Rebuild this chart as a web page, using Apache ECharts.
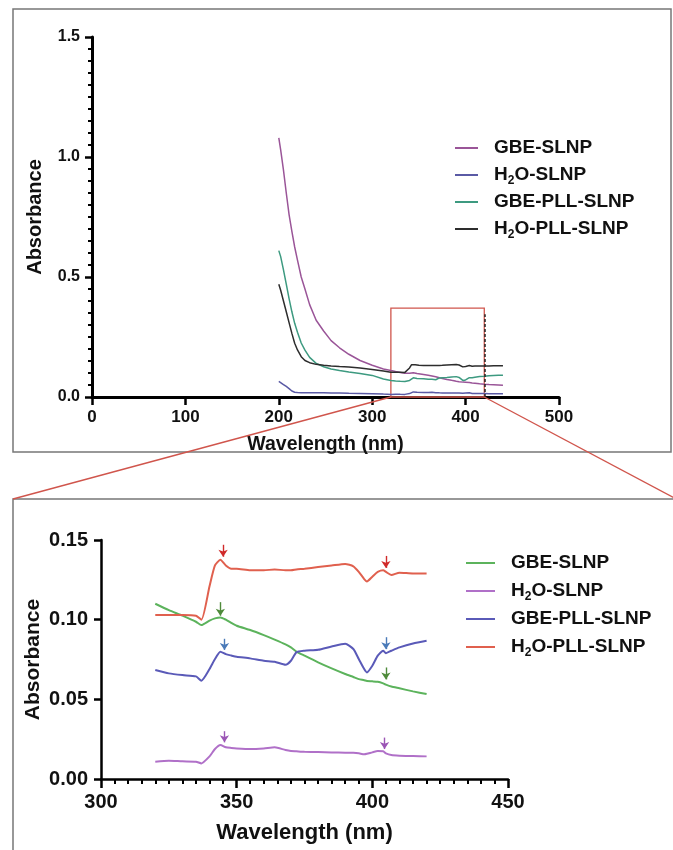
<!DOCTYPE html>
<html>
<head>
<meta charset="utf-8">
<script src="https://cdn.jsdelivr.net/npm/echarts@6/dist/echarts.min.js"></script>
<style>html,body{margin:0;padding:0;background:#fff;}#c{width:673px;height:850px;}</style>
</head>
<body>
<div id="c"></div>
<script>
// ---------- DATA ----------
var seriesNames = ['GBE-SLNP', 'H2O-SLNP', 'GBE-PLL-SLNP', 'H2O-PLL-SLNP'];

// Zoomed region (bottom panel) wavelengths, nm
var zoomWl = [320,325,330,335,337,340,342,344,346,348,350,355,360,364,368,370,372,375,380,385,390,393,395,397,398,400,402,404,405,407,410,415,420];
var zoomGbeSlnp = [0.110,0.106,0.1025,0.0987,0.0966,0.0994,0.1008,0.1014,0.100,0.098,0.0962,0.0935,0.0903,0.0875,0.0845,0.0826,0.080,0.0774,0.0732,0.0694,0.0659,0.064,0.0627,0.062,0.0615,0.0613,0.061,0.060,0.0592,0.058,0.0569,0.055,0.0533];
var zoomH2oSlnp = [0.0109,0.0115,0.0111,0.0109,0.0098,0.0142,0.0188,0.0213,0.0199,0.0195,0.0192,0.0188,0.0192,0.0199,0.0182,0.0176,0.0174,0.0171,0.0169,0.0167,0.0165,0.0164,0.0161,0.0155,0.0158,0.0167,0.0175,0.0174,0.0161,0.015,0.0146,0.0144,0.0142];
var zoomGbePll = [0.0684,0.0663,0.0652,0.0644,0.0617,0.069,0.0753,0.0799,0.0784,0.0775,0.0767,0.0757,0.0742,0.0736,0.0717,0.0742,0.0795,0.0805,0.0811,0.0832,0.0849,0.0816,0.0753,0.069,0.0669,0.0711,0.0774,0.0805,0.079,0.0805,0.0826,0.0851,0.0868];
var zoomH2oPll = [0.103,0.103,0.103,0.1025,0.100,0.121,0.134,0.1376,0.134,0.132,0.132,0.131,0.131,0.1315,0.131,0.131,0.1315,0.132,0.133,0.134,0.135,0.1335,0.130,0.1255,0.124,0.127,0.130,0.131,0.130,0.128,0.1295,0.129,0.129];

// Full spectrum (top panel): head 200-312 nm, then zoom region, then tail 425-440 nm
var headWl = [200,202,205,208,211,214,217,220,224,228,233,240,248,256,265,275,287,300,312];
var headGbeSlnp = [1.08,1.03,0.945,0.85,0.76,0.69,0.625,0.57,0.50,0.45,0.385,0.32,0.275,0.235,0.205,0.178,0.152,0.132,0.117];
var headH2oSlnp = [0.065,0.06,0.052,0.044,0.035,0.025,0.02,0.019,0.018,0.018,0.018,0.018,0.018,0.017,0.017,0.016,0.015,0.014,0.012];
var headGbePll = [0.61,0.585,0.53,0.47,0.41,0.355,0.307,0.27,0.225,0.195,0.165,0.14,0.126,0.117,0.11,0.104,0.098,0.09,0.075];
var headH2oPll = [0.47,0.445,0.40,0.355,0.31,0.265,0.224,0.196,0.168,0.152,0.143,0.136,0.132,0.129,0.127,0.125,0.121,0.115,0.108];
var tailWl = [425,430,435,440];
var tailGbeSlnp = [0.052,0.051,0.050,0.049];
var tailH2oSlnp = [0.014,0.014,0.014,0.014];
var tailGbePll = [0.089,0.090,0.091,0.091];
var tailH2oPll = [0.129,0.130,0.130,0.130];

// Arrow annotations in the zoom panel: [x, yTop, yTip]
var arrowsGbeSlnp = [[344,0.111,0.1025],[405,0.070,0.0625]];
var arrowsH2oSlnp = [[345.5,0.030,0.023],[404.5,0.026,0.0188]];
var arrowsGbePll = [[345.5,0.088,0.081],[405,0.089,0.0815]];
var arrowsH2oPll = [[345,0.147,0.1395],[405,0.140,0.1325]];

// Zoom box on the overview
var boxX = [320, 420];
var boxYMax = 0.37;
var dashYMax = 0.345;

// ---------- HELPERS ----------
function zip(xs, ys) { return xs.map(function (x, i) { return [x, ys[i]]; }); }
function full(h, z, t) { return zip(headWl, h).concat(zip(zoomWl, z)).concat(zip(tailWl, t)); }
function arrowLines(arr) {
  return arr.map(function (a) { return [{ coord: [a[0], a[1]] }, { coord: [a[0], a[2]] }]; });
}

var FONT = '"Liberation Sans", Arial, sans-serif';
var topColors = ['#9a5598', '#5a5aa5', '#3d9a80', '#2d2d2d'];
var botColors = ['#5cb35c', '#b070c8', '#5a5ab8', '#e0604e'];
var arrowColors = ['#4e8a3a', '#9b55b5', '#4a7ab8', '#d02a2a'];

function legendFmt(name) { return name.replace('H2O', 'H{s|2}O'); }
var legendRich = {
  s: { fontSize: 12, fontWeight: 'bold', fontFamily: FONT, color: '#111', lineHeight: 12, verticalAlign: 'bottom' }
};

function axisBase(w) {
  return {
    axisLine: { show: true, onZero: false, lineStyle: { color: '#000', width: w } },
    axisTick: { show: true, lineStyle: { color: '#000', width: w - 0.5 } },
    splitLine: { show: false },
    nameMoveOverlap: false
  };
}

var chart = echarts.init(document.getElementById('c'), null, { renderer: 'canvas' });

var topData = [
  full(headGbeSlnp, zoomGbeSlnp, tailGbeSlnp),
  full(headH2oSlnp, zoomH2oSlnp, tailH2oSlnp),
  full(headGbePll, zoomGbePll, tailGbePll),
  full(headH2oPll, zoomH2oPll, tailH2oPll)
];
var botData = [
  zip(zoomWl, zoomGbeSlnp),
  zip(zoomWl, zoomH2oSlnp),
  zip(zoomWl, zoomGbePll),
  zip(zoomWl, zoomH2oPll)
];
var botArrows = [arrowsGbeSlnp, arrowsH2oSlnp, arrowsGbePll, arrowsH2oPll];

var series = [];
seriesNames.forEach(function (n, i) {
  var s = {
    name: n, type: 'line', xAxisIndex: 0, yAxisIndex: 0,
    data: topData[i], showSymbol: false, symbol: 'none', silent: true,
    lineStyle: { color: topColors[i], width: 1.5 }, itemStyle: { color: topColors[i] },
    z: 3
  };
  if (i === 0) {
    s.markArea = {
      silent: true,
      itemStyle: { color: 'rgba(0,0,0,0)', borderColor: '#d0554c', borderWidth: 1.3 },
      label: { show: false },
      data: [[{ coord: [boxX[0], 0] }, { coord: [boxX[1], boxYMax] }]]
    };
    s.markLine = {
      silent: true, symbol: ['none', 'none'], label: { show: false },
      lineStyle: { color: '#222', width: 1.5, type: [3, 2] },
      data: [[{ coord: [boxX[1], 0] }, { coord: [boxX[1], dashYMax] }]]
    };
  }
  series.push(s);
});
seriesNames.forEach(function (n, i) {
  series.push({
    name: n, type: 'line', xAxisIndex: 1, yAxisIndex: 1,
    data: botData[i], showSymbol: false, symbol: 'none', silent: true, smooth: 0.2,
    lineStyle: { color: botColors[i], width: 2 }, itemStyle: { color: botColors[i] },
    markLine: {
      silent: true, symbol: ['none', 'arrow'], symbolSize: 7, label: { show: false },
      lineStyle: { color: arrowColors[i], width: 1.4, type: 'solid' },
      data: arrowLines(botArrows[i])
    }
  });
});

var topX = axisBase(3), topY = axisBase(3), botX = axisBase(2.5), botY = axisBase(2.5);

function legendCfg(left, top, iw, gap, colors) {
  return {
    orient: 'vertical', left: left, top: top, padding: 0, itemWidth: iw, itemHeight: 2, itemGap: gap,
    icon: 'rect',
    data: seriesNames.map(function (n, i) {
      return { name: n, icon: 'rect', itemStyle: { color: colors[i], borderWidth: 0 } };
    }),
    selectedMode: false, formatter: legendFmt,
    textStyle: { fontSize: 19, fontWeight: 'bold', fontFamily: FONT, color: '#111', lineHeight: 24,
      padding: [0, 0, 0, 11], rich: legendRich }
  };
}

chart.setOption({
  animation: false,
  backgroundColor: '#fff',
  grid: [
    { left: 92, top: 37, width: 467, height: 360 },
    { left: 101, top: 540, width: 407, height: 239 }
  ],
  xAxis: [
    Object.assign(topX, {
      type: 'value', gridIndex: 0, min: 0, max: 500, interval: 100,
      axisTick: { show: true, length: 8, lineStyle: { color: '#000', width: 2.5 } },
      axisLabel: { fontSize: 17, fontWeight: 'bold', fontFamily: FONT, color: '#111', margin: 12 },
      name: 'Wavelength (nm)', nameLocation: 'middle', nameGap: 38,
      nameTextStyle: { fontSize: 19.5, fontWeight: 'bold', fontFamily: FONT, color: '#111' }
    }),
    Object.assign(botX, {
      type: 'value', gridIndex: 1, min: 300, max: 450, interval: 50,
      axisTick: { show: true, length: 9, lineStyle: { color: '#000', width: 2.5 } },
      minorTick: { show: true, splitNumber: 10, length: 5, lineStyle: { color: '#000', width: 2 } },
      axisLabel: { fontSize: 20, fontWeight: 'bold', fontFamily: FONT, color: '#111', margin: 13 },
      name: 'Wavelength (nm)', nameLocation: 'middle', nameGap: 43,
      nameTextStyle: { fontSize: 22, fontWeight: 'bold', fontFamily: FONT, color: '#111' }
    })
  ],
  yAxis: [
    Object.assign(topY, {
      type: 'value', gridIndex: 0, min: 0, max: 1.5, interval: 0.5,
      axisTick: { show: true, length: 7, lineStyle: { color: '#000', width: 2.5 } },
      minorTick: { show: true, splitNumber: 10, length: 4, lineStyle: { color: '#000', width: 2 } },
      axisLabel: { fontSize: 16, fontWeight: 'bold', fontFamily: FONT, color: '#111', margin: 12,
        formatter: function (v) { return v.toFixed(1); } },
      name: 'Absorbance', nameLocation: 'middle', nameGap: 47,
      nameTextStyle: { fontSize: 20, fontWeight: 'bold', fontFamily: FONT, color: '#111' }
    }),
    Object.assign(botY, {
      type: 'value', gridIndex: 1, min: 0, max: 0.15, interval: 0.05,
      axisTick: { show: true, length: 7, lineStyle: { color: '#000', width: 2.5 } },
      axisLabel: { fontSize: 20, fontWeight: 'bold', fontFamily: FONT, color: '#111', margin: 13,
        formatter: function (v) { return v.toFixed(2); } },
      name: 'Absorbance', nameLocation: 'middle', nameGap: 57,
      nameTextStyle: { fontSize: 21, fontWeight: 'bold', fontFamily: FONT, color: '#111' }
    })
  ],
  legend: [
    legendCfg(455, 136, 23, 3, topColors),
    legendCfg(466, 551, 29, 4, botColors)
  ],
  series: series
});

// Frames and connector lines (connector start points come from the axes' scales)
var pL = chart.convertToPixel({ xAxisIndex: 0, yAxisIndex: 0 }, [boxX[0], 0]);
var pR = chart.convertToPixel({ xAxisIndex: 0, yAxisIndex: 0 }, [boxX[1], 0]);
chart.setOption({
  graphic: [
    { type: 'rect', shape: { x: 13, y: 9, width: 658, height: 443 }, style: { fill: 'none', stroke: '#777', lineWidth: 1.5 }, silent: true, z: 0 },
    { type: 'rect', shape: { x: 13, y: 499, width: 700, height: 400 }, style: { fill: 'none', stroke: '#777', lineWidth: 1.5 }, silent: true, z: 0 },
    { type: 'line', shape: { x1: pL[0], y1: pL[1], x2: 13, y2: 499 }, style: { stroke: '#d0554c', lineWidth: 1.4 }, silent: true, z: 10 },
    { type: 'line', shape: { x1: pR[0], y1: pR[1], x2: 680, y2: 501 }, style: { stroke: '#d0554c', lineWidth: 1.4 }, silent: true, z: 10 }
  ]
});
</script>
</body>
</html>
